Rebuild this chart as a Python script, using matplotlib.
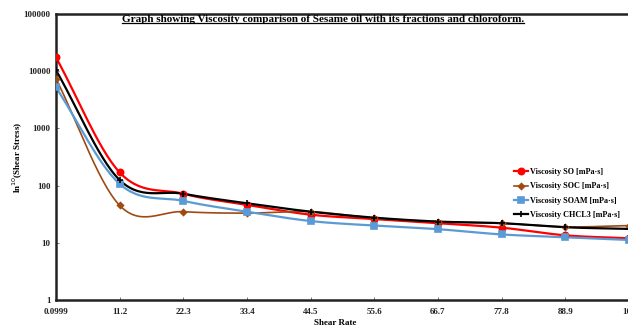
import numpy as np
import matplotlib
matplotlib.use("Agg")
import matplotlib.pyplot as plt
from matplotlib.lines import Line2D

# Shear rate categories
shear_rate = ["0.0999", "11.2", "22.3", "33.4", "44.5", "55.6", "66.7", "77.8", "88.9", "100"]

# Viscosity series [mPa·s]
visc_so = [17400, 170, 72, 46, 31, 26, 22, 18.4, 13.5, 12]
visc_soc = [7400, 45, 35, 33, 35, 27, 23.4, 22, 19, 20]
visc_soam = [5200, 107, 54, 35, 24, 20, 17.3, 14, 12.5, 11.2]
visc_chcl3 = [10400, 125, 72, 49, 35, 27.5, 23.5, 22, 18.7, 17.5]

series_names = ["Viscosity SO [mPa·s]", "Viscosity SOC [mPa·s]",
                "Viscosity SOAM [mPa·s]", "Viscosity CHCL3 [mPa·s]"]

plt.rcParams["font.family"] = ["Liberation Serif", "DejaVu Serif"]


def smooth(y, n=30):
    """Catmull-Rom spline through the points in (index, log10 y) space."""
    ly = np.log10(np.asarray(y, dtype=float))
    x = np.arange(len(ly), dtype=float)
    px = np.concatenate([[2 * x[0] - x[1]], x, [2 * x[-1] - x[-2]]])
    py = np.concatenate([[2 * ly[0] - ly[1]], ly, [2 * ly[-1] - ly[-2]]])
    xs, ys = [], []
    for i in range(1, len(px) - 2):
        t = np.linspace(0, 1, n, endpoint=(i == len(px) - 3))
        t2, t3 = t * t, t * t * t
        for arr, out in ((px, xs), (py, ys)):
            p0, p1, p2, p3 = arr[i - 1], arr[i], arr[i + 1], arr[i + 2]
            out.append(0.5 * ((2 * p1) + (-p0 + p2) * t
                              + (2 * p0 - 5 * p1 + 4 * p2 - p3) * t2
                              + (-p0 + 3 * p1 - 3 * p2 + p3) * t3))
    return np.concatenate(xs), 10 ** np.concatenate(ys)


fig = plt.figure(figsize=(6.28, 3.26), dpi=100)
ax = fig.add_axes([56 / 628, 1 - 300 / 326, 573 / 628, 286 / 326])

styles = [
    (visc_so, "#FF0000", "o", 4.5, 1.6),
    (visc_soc, "#9E4A12", "D", 3.0, 1.2),
    (visc_soam, "#5B9BD5", "s", 5.0, 1.6),
    (visc_chcl3, "#000000", "+", 5.0, 1.6),
]

idx = np.arange(len(shear_rate))
handles = []
for (vals, col, mk, ms, lw), name in zip(styles, series_names):
    sx, sy = smooth(vals)
    ax.plot(sx, sy, color=col, lw=lw, zorder=2)
    ax.plot(idx, vals, ls="none", marker=mk, ms=ms, color=col,
            mec=col, mew=1.2, zorder=3)
    handles.append(Line2D([0], [0], color=col, lw=lw, marker=mk, ms=ms,
                          mec=col, mew=1.2))

ax.set_yscale("log")
ax.set_ylim(1, 100000)
ax.set_xlim(0, 9)
ax.set_xticks(idx)
ax.set_xticklabels(shear_rate)
ax.set_yticks([1, 10, 100, 1000, 10000, 100000])
ax.set_yticklabels(["1", "10", "100", "1000", "10000", "100000"])
ax.yaxis.set_minor_locator(matplotlib.ticker.NullLocator())

for lab in ax.get_xticklabels() + ax.get_yticklabels():
    lab.set_fontsize(6.5)
    lab.set_fontweight("bold")
    lab.set_color("#222222")
ax.tick_params(axis="both", direction="in", length=2.5, width=0.7,
               color="#777777")
ax.tick_params(axis="y", pad=4)
ax.tick_params(axis="x", pad=5.5)

for side in ["left", "bottom", "top"]:
    ax.spines[side].set_linewidth(1.8)
    ax.spines[side].set_color("#222222")
ax.spines["right"].set_visible(False)

ax.set_xlabel("Shear Rate", fontsize=6.5, fontweight="bold")
ax.xaxis.set_label_coords((335 - 56) / 573, -0.068)
ax.set_ylabel("ln$^{10}$(Shear Stress)", fontsize=6.5, fontweight="bold")
ax.yaxis.set_label_coords(-(56 - 25) / 573, (300 - 157) / 286)

leg = ax.legend(handles, series_names, loc="upper left",
                bbox_to_anchor=((511 - 56) / 573, 1 - (165 - 14) / 286),
                frameon=False, prop={"weight": "bold", "size": 5.9},
                handlelength=1.7, handletextpad=0.2, labelspacing=0.75,
                borderaxespad=0)

title = fig.text(323 / 628, 1 - 20 / 326,
                 "Graph showing Viscosity comparison of Sesame oil with its fractions and chloroform.",
                 ha="center", va="center", fontsize=8, fontweight="bold")

# underline beneath the title
fig.canvas.draw()
bb = title.get_window_extent(renderer=fig.canvas.get_renderer())
inv = fig.transFigure.inverted()
(x0, y0), (x1, _) = inv.transform([(bb.x0, bb.y0), (bb.x1, bb.y0)])
fig.add_artist(Line2D([x0, x1], [y0 + 0.004, y0 + 0.004], color="black",
                      lw=0.9, transform=fig.transFigure))

fig.savefig("out.png", dpi=100)
